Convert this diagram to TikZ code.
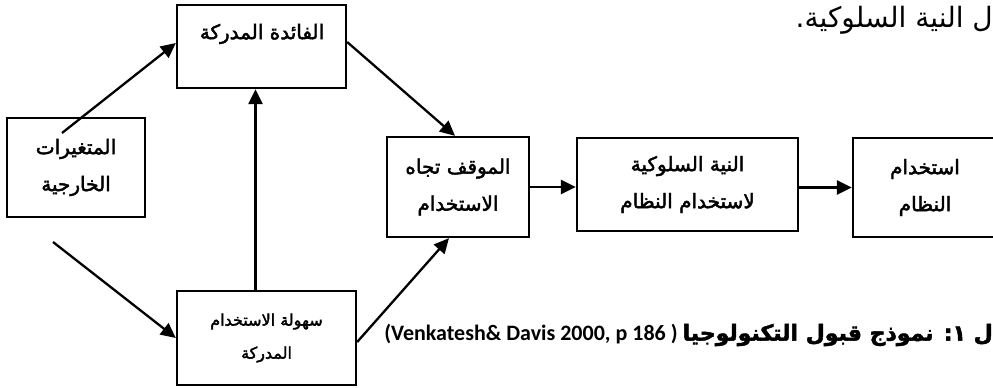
\documentclass[tikz,border=0pt]{standalone}
\usepackage{fontspec}
\setmainfont{Carlito}
\newfontfamily\arabicfont[Script=Arabic]{DejaVu Sans}
\newfontfamily\arabicbold[Script=Arabic,FakeBold=2.2]{DejaVu Sans}
\TeXXeTstate=1
\usetikzlibrary{arrows.meta,calc}
\tikzset{
  box/.style={draw, line width=2.3pt, inner sep=0pt, align=center,
    font=\arabicbold\fontsize{20}{37}\selectfont},
  txt/.style={inner sep=0pt, align=center,
    font=\arabicbold\fontsize{20}{37}\selectfont},
  arr/.style={line width=2.3pt, -{Triangle[length=15pt,width=14pt]}}
}
\begin{document}
\begin{tikzpicture}[x=1pt,y=-1pt]
\useasboundingbox (0,0) rectangle (993,388);
\clip (0,0) rectangle (993,388);
% boxes
\node[box, minimum width=169pt, minimum height=83pt] (fa) at (261.5,46.5) {};
\node[txt] (fat) at (262,34) {\beginR الفائدة المدركة\endR};
\node[box, minimum width=138pt, minimum height=99pt] (ext) at (76,167.5)
  {\beginR المتغيرات\endR\\\beginR الخارجية\endR};
\node[box, minimum width=142pt, minimum height=100pt] (maw) at (458,187)
  {\beginR الموقف تجاه\endR\\\beginR الاستخدام\endR};
\node[box, minimum width=221pt, minimum height=93pt] (niy) at (687.5,184.5)
  {\beginR النية السلوكية\endR\\\beginR لاستخدام النظام\endR};
\node[box, minimum width=144pt, minimum height=99pt] (ist) at (925,187.5)
  {\beginR استخدام\endR\\\beginR النظام\endR};
\node[box, minimum width=179pt, minimum height=94pt,
  font=\arabicbold\fontsize{16}{33}\selectfont] (sah) at (266.5,338)
  {\beginR سهولة الاستخدام\endR\\\beginR المدركة\endR};
% connectors
\coordinate (e1) at (62,133);
\coordinate (e2) at (53,242);
\draw[arr] (e1) -- ($(fa.west)+(0,-3.5)$);
\draw[arr] (e2) -- (sah.west);
\draw[arr] ($(sah.north)+(-11,0)$) -- ($(fa.south)+(-6,0)$);
\draw[arr] ($(sah.east)+(0,4)$) -- ($(maw.south)+(-9,0)$);
\draw[arr] ($(fa.east)+(0,-4.5)$) -- ($(maw.north)+(-3,0)$);
\draw[arr] (maw.east) -- (maw.east -| niy.west);
\draw[arr] (niy.east |- ist.west) -- (ist.west);
% texts
\node[anchor=east, inner sep=0pt, font=\arabicfont\fontsize{28}{30}\selectfont] (top) at (993,20)
  {.\beginR ل النية السلوكية\endR};
\node[anchor=east, inner sep=0pt, font=\bfseries\fontsize{22}{28}\selectfont] (cap) at (993,335)
  {(Venkatesh\& Davis 2000, p 186 ) {\arabicbold\fontsize{22}{26}\selectfont\beginR ل ١\kern0pt: نموذج قبول التكنولوجيا\endR}};
\end{tikzpicture}
\end{document}
